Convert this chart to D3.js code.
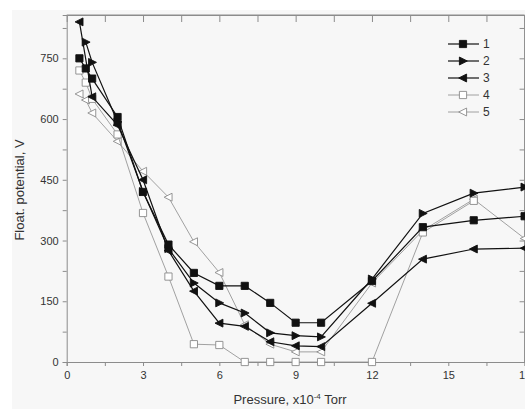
<!DOCTYPE html>
<html>
<head>
<meta charset="utf-8">
<script src="https://cdn.jsdelivr.net/npm/d3@7"></script>
<style>
  body { margin: 0; background: #fff; }
  svg { display: block; font-family: "Liberation Sans", Arial, sans-serif; }
</style>
</head>
<body>
<div id="chart"></div>
<script>
// data
var s1x = [0.5, 0.75, 1, 2, 3, 4, 5, 6, 7, 8, 9, 10, 12, 14, 16, 18],
    s1y = [750, 725, 700, 605, 420, 290, 220, 188, 188, 146, 97, 97, 200, 333, 350, 360];
var s2x = [0.75, 1, 2, 3, 4, 5, 6, 7, 8, 9, 10, 12, 14, 16, 18],
    s2y = [790, 740, 593, 421, 280, 195, 146, 121, 72, 65, 62, 205, 367, 417, 432];
var s3x = [0.5, 1, 2, 3, 4, 5, 6, 7, 8, 9, 10, 12, 14, 16, 18],
    s3y = [840, 655, 585, 450, 275, 175, 96, 88, 50, 40, 38, 145, 254, 279, 281];
var s4x = [0.5, 0.75, 1, 2, 3, 4, 5, 6, 7, 8, 9, 10, 12, 14, 16],
    s4y = [720, 690, 650, 562, 368, 211, 44, 42, 0, 0, 0, 0, 0, 320, 398];
var s5x = [0.5, 0.75, 1, 2, 3, 4, 5, 6, 7, 8, 9, 10, 12, 14, 16, 18],
    s5y = [662, 647, 615, 545, 471, 407, 297, 221, 92, 44, 25, 25, 195, 325, 402, 305];
var seriesNames = ['1', '2', '3', '4', '5'];
var xTicks = [0, 3, 6, 9, 12, 15, 18],
    yTicks = [0, 150, 300, 450, 600, 750];

var W = 525, H = 409;
var svg = d3.select('#chart').append('svg').attr('width', W).attr('height', H);

svg.append('rect').attr('x', 12).attr('y', 10).attr('width', W - 12).attr('height', H - 10)
  .attr('fill', '#f7f7f7');

var x = d3.scaleLinear().domain([0, 18]).range([66.7, 524.6]),
    y = d3.scaleLinear().domain([0, 857]).range([362, 15]);

var axisCol = '#8c8c8c', textCol = '#333';

// frame
var frame = svg.append('g').attr('stroke', axisCol).attr('fill', 'none');
frame.append('line').attr('x1', x(0)).attr('x2', x(18)).attr('y1', y(857)).attr('y2', y(857));
frame.append('line').attr('x1', x(18)).attr('x2', x(18)).attr('y1', y(0)).attr('y2', y(857));

// bottom axis
var gx = svg.append('g').attr('transform', 'translate(0,' + y(0) + ')')
  .call(d3.axisBottom(x).tickValues(d3.range(0, 18.1, 1.5)).tickSize(4)
    .tickFormat(function(d) { return xTicks.indexOf(d) >= 0 ? d : ''; }));
// left axis
var gy = svg.append('g').attr('transform', 'translate(' + x(0) + ',0)')
  .call(d3.axisLeft(y).tickValues(d3.range(0, 851, 75)).tickSize(4)
    .tickFormat(function(d) { return yTicks.indexOf(d) >= 0 ? d : ''; }));
// top and right inner ticks
svg.append('g').attr('transform', 'translate(0,' + y(857) + ')')
  .call(d3.axisBottom(x).tickValues(d3.range(1.5, 18, 1.5)).tickSize(7).tickFormat(''));
svg.append('g').attr('transform', 'translate(' + x(18) + ',0)')
  .call(d3.axisLeft(y).tickValues(d3.range(75, 851, 75)).tickSize(5).tickFormat(''));

svg.selectAll('.domain').attr('stroke', axisCol);
svg.selectAll('.tick line').attr('stroke', axisCol);
svg.selectAll('.tick text').attr('fill', textCol).attr('font-size', 11)
  .attr('font-family', '"Liberation Sans", Arial, sans-serif');
gx.selectAll('.tick text').attr('dy', '0.9em');
gy.selectAll('.tick text').attr('dx', '-1px');

// axis titles
var xt = svg.append('text').attr('x', 290).attr('y', 404).attr('text-anchor', 'middle')
  .attr('font-size', 13).attr('fill', textCol);
xt.append('tspan').text('Pressure, x10');
xt.append('tspan').attr('dy', -5).attr('font-size', 8).text('-4');
xt.append('tspan').attr('dy', 5).text(' Torr');

svg.append('text').attr('transform', 'translate(24,190) rotate(-90)').attr('text-anchor', 'middle')
  .attr('font-size', 13).attr('fill', textCol).text('Float. potential, V');

// series
var series = [
  { xs: s1x, ys: s1y, col: '#111', w: 1.2, shape: 'square', fill: '#111' },
  { xs: s2x, ys: s2y, col: '#111', w: 1.2, shape: 'right', fill: '#111' },
  { xs: s3x, ys: s3y, col: '#111', w: 1.2, shape: 'left', fill: '#111' },
  { xs: s4x, ys: s4y, col: '#8a8a8a', w: 0.8, shape: 'square', fill: '#fff' },
  { xs: s5x, ys: s5y, col: '#8a8a8a', w: 0.8, shape: 'left', fill: '#fff' }
];

function markerPath(shape) {
  var r = 3.6;
  if (shape === 'square') return 'M' + -r + ',' + -r + 'h' + 2 * r + 'v' + 2 * r + 'h' + -2 * r + 'Z';
  if (shape === 'right') return 'M' + -r + ',' + -r * 1.1 + 'L' + r * 1.2 + ',0L' + -r + ',' + r * 1.1 + 'Z';
  return 'M' + r + ',' + -r * 1.1 + 'L' + -r * 1.2 + ',0L' + r + ',' + r * 1.1 + 'Z';
}

var line = d3.line().x(function(d) { return x(d[0]); }).y(function(d) { return y(d[1]); });

var plot = svg.append('g');
series.slice().reverse().forEach(function(s) {
  var pts = s.xs.map(function(v, i) { return [v, s.ys[i]]; });
  plot.append('path').datum(pts).attr('d', line).attr('fill', 'none')
    .attr('stroke', s.col).attr('stroke-width', s.w);
  plot.selectAll(null).data(pts).enter().append('path')
    .attr('transform', function(d) { return 'translate(' + x(d[0]) + ',' + y(d[1]) + ')'; })
    .attr('d', markerPath(s.shape)).attr('fill', s.fill).attr('stroke', s.col).attr('stroke-width', 0.9);
});

// legend
var lg = svg.append('g');
series.forEach(function(s, i) {
  var yy = 44 + i * 17;
  lg.append('line').attr('x1', 448).attr('x2', 479).attr('y1', yy).attr('y2', yy)
    .attr('stroke', s.col).attr('stroke-width', s.w);
  lg.append('path').attr('transform', 'translate(463,' + yy + ')').attr('d', markerPath(s.shape))
    .attr('fill', s.fill).attr('stroke', s.col).attr('stroke-width', 0.9);
  lg.append('text').attr('x', 483).attr('y', yy + 4).attr('font-size', 12).attr('fill', textCol)
    .text(seriesNames[i]);
});
</script>
</body>
</html>
